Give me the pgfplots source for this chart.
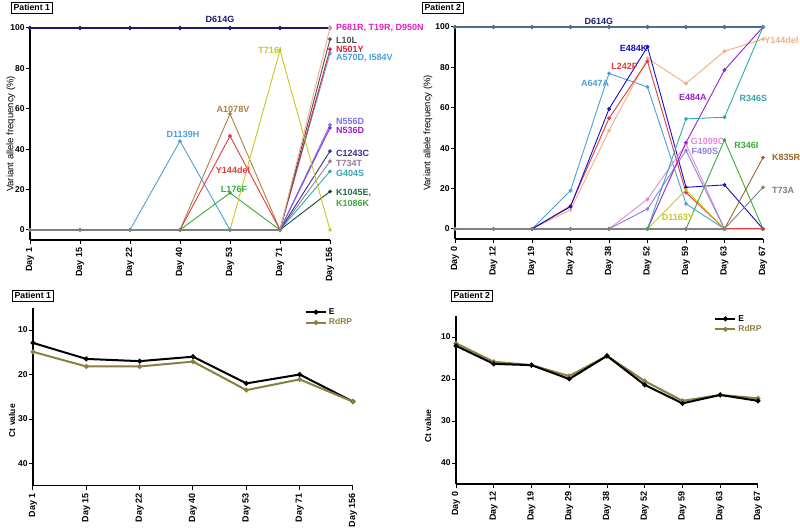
\documentclass[border=0pt]{standalone}
\usepackage{fontspec}
\setmainfont{Liberation Sans}
\usepackage{pgfplots}
\pgfplotsset{compat=1.18}
\definecolor{navy}{HTML}{1C1C6B}
\definecolor{slate}{HTML}{4F6D8A}
\definecolor{baseg}{HTML}{808080}
\definecolor{lblue}{HTML}{4A9FD8}
\definecolor{tanc}{HTML}{B07E3C}
\definecolor{red1}{HTML}{E03A3A}
\definecolor{grn}{HTML}{3AAA3A}
\definecolor{yel}{HTML}{C8C820}
\definecolor{peach}{HTML}{F0AE88}
\definecolor{magenta1}{HTML}{E020C0}
\definecolor{dgray}{HTML}{505050}
\definecolor{red2}{HTML}{E02040}
\definecolor{lav}{HTML}{7B6FE6}
\definecolor{purp}{HTML}{9A20D0}
\definecolor{indig}{HTML}{3A2F90}
\definecolor{mauve}{HTML}{9A7A9A}
\definecolor{teal1}{HTML}{30A8B0}
\definecolor{dgreen}{HTML}{1E4A32}
\definecolor{dgreenl}{HTML}{2A6A44}
\definecolor{blue1}{HTML}{1010C8}
\definecolor{pink1}{HTML}{E68AD6}
\definecolor{lav2}{HTML}{8A80E0}
\definecolor{brown1}{HTML}{A0642A}
\definecolor{rdrp}{HTML}{8A8040}
\tikzset{lab/.style={font=\fontsize{9}{10}\selectfont\bfseries, inner sep=0pt},
  ptag/.style={draw, line width=0.7pt, font=\fontsize{8.7}{10}\selectfont\bfseries, inner sep=2.3pt, anchor=north west}}
\begin{document}
\begin{tikzpicture}
\useasboundingbox (0pt,0pt) rectangle (800pt,530pt);
\pgfplotsset{
  gp/.style={scale only axis, axis x line*=bottom, axis y line*=left,
    axis line style={line width=1.1pt,-}, tick align=outside,
    major tick length=4pt, every tick/.style={black, line width=1pt},
    clip=false, /pgf/number format/assume math mode=true,
    xticklabel style={rotate=90, anchor=east, font=\fontsize{9}{10}\selectfont\bfseries},
    yticklabel style={font=\fontsize{8.5}{10}\selectfont\bfseries, inner sep=1.2pt},
    legend image code/.code={\draw[mark repeat=2, mark phase=2, ##1] plot coordinates {(0pt,0pt) (10pt,0pt) (20pt,0pt)};},
  },
  vl/.style={line width=0.9pt, mark=*, mark size=1.4pt},
  ct/.style={line width=2pt, mark=*, mark size=1.3pt},
}
% ---------------- Top-left: Patient 1 variants
\begin{axis}[gp, at={(30pt,290pt)}, anchor=south west, width=300pt, height=212pt,
  xmin=0, xmax=6, ymin=-5, ymax=100, xtick={0,...,6},
  xticklabels={Day 1,Day 15,Day 22,Day 40,Day 53,Day 71,Day 156},
  ytick={0,20,40,60,80,100}, ylabel={Variant allele frequency (\%)},
  ylabel style={font=\fontsize{9.5}{11}\selectfont, at={(rel axis cs:0,0.5)}, anchor=center, yshift=19pt}]
\addplot[vl, navy, line width=1.4pt] coordinates {(0,100)(1,100)(2,100)(3,100)(4,100)(5,100)(6,100)};
\addplot[vl, lblue] coordinates {(2,0)(3,44)(4,0)};
\addplot[vl, tanc] coordinates {(3,0)(4,57.5)(5,0)};
\addplot[vl, red1] coordinates {(3,0)(4,46.5)(5,0)};
\addplot[vl, grn] coordinates {(3,0)(4,18.3)(5,0)};
\addplot[vl, dgreen] coordinates {(5,0)(6,19)};
\addplot[vl, teal1] coordinates {(5,0)(6,29)};
\addplot[vl, mauve] coordinates {(5,0)(6,34)};
\addplot[vl, indig] coordinates {(5,0)(6,39)};
\addplot[vl, purp] coordinates {(5,0)(6,50.5)};
\addplot[vl, lav] coordinates {(5,0)(6,52)};
\addplot[vl, lblue] coordinates {(5,0)(6,87.5)};
\addplot[vl, red2] coordinates {(5,0)(6,89.5)};
\addplot[vl, dgray] coordinates {(5,0)(6,94.5)};
\addplot[vl, peach] coordinates {(5,0)(6,100)};
\addplot[vl, yel] coordinates {(4,0)(5,89)(6,0)};
\addplot[vl, baseg, line width=1.3pt] coordinates {(0,0)(1,0)(2,0)(3,0)(4,0)(5,0)};
\node[lab, text=navy] at (axis cs:3.8,104.5) {D614G};
\node[lab, text=lblue] at (axis cs:3.06,47.5) {D1139H};
\node[lab, text=tanc] at (axis cs:4.06,59.5) {A1078V};
\node[lab, text=red1] at (axis cs:4.06,29.7) {Y144del};
\node[lab, text=grn] at (axis cs:4.08,20.3) {L176F};
\node[lab, text=yel] at (axis cs:4.8,88.8) {T716I};
\node[lab, text=magenta1, anchor=west] at (axis cs:6.12,100) {P681R, T19R, D950N};
\node[lab, text=dgray, anchor=west] at (axis cs:6.12,94) {L10L};
\node[lab, text=red2, anchor=west] at (axis cs:6.12,89.4) {N501Y};
\node[lab, text=lblue, anchor=west] at (axis cs:6.12,85.1) {A570D, I584V};
\node[lab, text=lav, anchor=west] at (axis cs:6.12,53.6) {N556D};
\node[lab, text=purp, anchor=west] at (axis cs:6.12,49.2) {N536D};
\node[lab, text=indig, anchor=west] at (axis cs:6.12,38) {C1243C};
\node[lab, text=mauve, anchor=west] at (axis cs:6.12,32.7) {T734T};
\node[lab, text=teal1, anchor=west] at (axis cs:6.12,28) {G404S};
\node[lab, text=dgreenl, anchor=west] at (axis cs:6.12,18.2) {K1045E,};
\node[lab, text=grn, anchor=west] at (axis cs:6.12,13.2) {K1086K};
\end{axis}
% ---------------- Top-right: Patient 2 variants
\begin{axis}[gp, at={(455pt,291pt)}, anchor=south west, width=308pt, height=212pt,
  xmin=0, xmax=8, ymin=-5, ymax=100, xtick={0,...,8},
  xticklabels={Day 0,Day 12,Day 19,Day 29,Day 38,Day 52,Day 59,Day 63,Day 67},
  ytick={0,20,40,60,80,100}, ylabel={Variant allele frequency (\%)},
  ylabel style={font=\fontsize{9.5}{11}\selectfont, at={(rel axis cs:0,0.5)}, anchor=center, yshift=27pt}]
\addplot[vl, slate, line width=1.4pt] coordinates {(0,100)(1,100)(2,100)(3,100)(4,100)(5,100)(6,100)(7,100)(8,100)};
\addplot[vl, lblue] coordinates {(2,0)(3,19)(4,77)(5,70.3)(6,12.4)(7,0)};
\addplot[vl, peach] coordinates {(2,0)(3,9.4)(4,48.7)(5,84.5)(6,72)(7,88)(8,94)};
\addplot[vl, red1] coordinates {(2,0)(3,11.4)(4,54.8)(5,83)(6,18)(7,0)(8,0)};
\addplot[vl, blue1] coordinates {(2,0)(3,11)(4,59.4)(5,90.2)(6,20.6)(7,21.8)(8,0)};
\addplot[vl, pink1] coordinates {(4,0)(5,14.7)(6,42)(7,0)};
\addplot[vl, lav2] coordinates {(4,0)(5,9.9)(6,38.8)(7,0)};
\addplot[vl, yel] coordinates {(5,0)(6,19.3)(7,0)};
\addplot[vl, purp] coordinates {(5,0)(6,42.7)(7,78.7)(8,100)};
\addplot[vl, teal1] coordinates {(5,0)(6,54.5)(7,55.3)(8,100)};
\addplot[vl, grn] coordinates {(6,0)(7,44)(8,0)};
\addplot[vl, brown1] coordinates {(7,0)(8,35.3)};
\addplot[vl, baseg] coordinates {(7,0)(8,20.6)};
\addplot[vl, red1] coordinates {(7,0)(8,0)};
\addplot[vl, baseg, line width=1.3pt] coordinates {(0,0)(1,0)(2,0)(3,0)(4,0)(5,0)(6,0)(7,0)};
\node[lab, text=navy] at (axis cs:3.74,102.6) {D614G};
\node[lab, text=lblue] at (axis cs:3.64,72.1) {A647A};
\node[lab, text=blue1] at (axis cs:4.64,89.4) {E484K};
\node[lab, text=red1] at (axis cs:4.4,80.7) {L242F};
\node[lab, text=purp] at (axis cs:6.18,65.2) {E484A};
\node[lab, text=teal1] at (axis cs:7.75,64.4) {R346S};
\node[lab, text=peach, anchor=west] at (axis cs:8.03,93.6) {Y144del};
\node[lab, text=pink1] at (axis cs:6.56,43.2) {G1099C};
\node[lab, text=lav2] at (axis cs:6.49,38.3) {F490S};
\node[lab, text=grn] at (axis cs:7.57,41.6) {R346I};
\node[lab, text=brown1, anchor=west] at (axis cs:8.23,35.3) {K835R};
\node[lab, text=baseg, anchor=west] at (axis cs:8.23,19.3) {T73A};
\node[lab, text=yel] at (axis cs:5.79,5.8) {D1163Y};
\end{axis}
% ---------------- Bottom-left: Patient 1 Ct
\begin{axis}[gp, at={(33pt,44.25pt)}, anchor=south west, width=320pt, height=178pt,
  y dir=reverse, xmin=0, xmax=6, ymin=5, ymax=45, xtick={0,...,6},
  xticklabels={Day 1,Day 15,Day 22,Day 40,Day 53,Day 71,Day 156},
  ytick={10,20,30,40}, ylabel={Ct value},
  ylabel style={font=\fontsize{8.5}{10}\selectfont\bfseries, at={(rel axis cs:0,0.5)}, anchor=center, yshift=21pt, xshift=-24pt},
  legend style={draw=none, fill=none, at={(0.84,1.02)}, anchor=north west,
    font=\fontsize{8.5}{10}\selectfont\bfseries, row sep=-1pt},
  legend cell align=left]
\addplot[ct, black] coordinates {(0,12.9)(1,16.5)(2,17)(3,16)(4,22)(5,20)(6,26.1)};
\addplot[ct, rdrp] coordinates {(0,14.9)(1,18.2)(2,18.2)(3,17.1)(4,23.5)(5,21.1)(6,26.1)};
\legend{E,\textcolor{rdrp}{RdRP}}
\end{axis}
% ---------------- Bottom-right: Patient 2 Ct
\begin{axis}[gp, at={(456pt,46pt)}, anchor=south west, width=302pt, height=168pt,
  y dir=reverse, xmin=0, xmax=8, ymin=5, ymax=45, xtick={0,...,8},
  xticklabels={Day 0,Day 12,Day 19,Day 29,Day 38,Day 52,Day 59,Day 63,Day 67},
  ytick={10,20,30,40}, ylabel={Ct value},
  ylabel style={font=\fontsize{8.5}{10}\selectfont\bfseries, at={(rel axis cs:0,0.5)}, anchor=center, yshift=28pt, xshift=-26pt},
  legend style={draw=none, fill=none, at={(0.845,1.03)}, anchor=north west,
    font=\fontsize{8.5}{10}\selectfont\bfseries, row sep=-1pt},
  legend cell align=left]
\addplot[ct, rdrp, forget plot] coordinates {(0,11.5)(1,15.9)(2,16.7)(3,19.3)(4,14.5)(5,20.5)(6,25.2)(7,23.8)(8,24.6)};
\addplot[ct, black] coordinates {(0,12.1)(1,16.4)(2,16.7)(3,20)(4,14.5)(5,21.4)(6,25.8)(7,23.8)(8,25.2)};
\addlegendimage{ct, rdrp}
\legend{E,\textcolor{rdrp}{RdRP}}
\end{axis}
% ---------------- Panel tags
\node[ptag] at (11pt,528pt) {Patient 1};
\node[ptag] at (422pt,528pt) {Patient 2};
\node[ptag] at (12pt,240pt) {Patient 1};
\node[ptag] at (451pt,240pt) {Patient 2};
\end{tikzpicture}
\end{document}
